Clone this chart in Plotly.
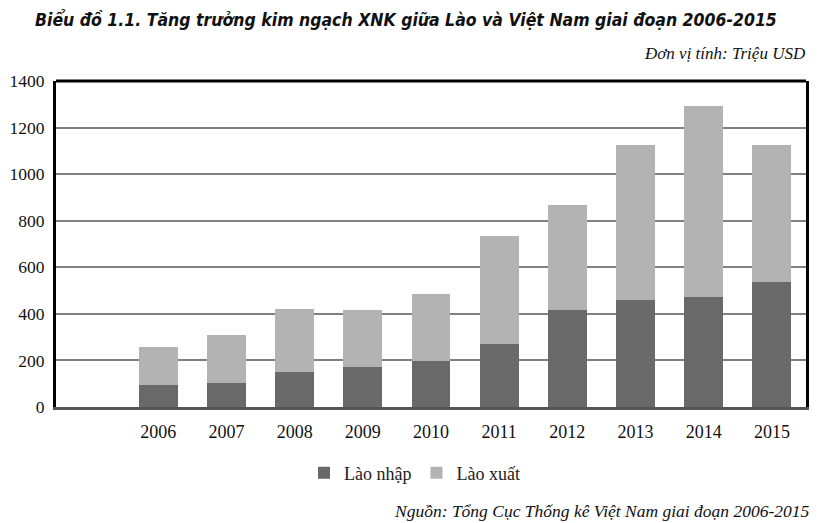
import plotly.graph_objects as go

years = [2006, 2007, 2008, 2009, 2010, 2011, 2012, 2013, 2014, 2015]
lao_nhap = [94, 104, 149, 171, 197, 272, 418, 458, 474, 536]
lao_xuat = [164, 207, 274, 244, 290, 461, 450, 666, 817, 588]
y_ticks = [0, 200, 400, 600, 800, 1000, 1200, 1400]

title = "Biểu đồ 1.1. Tăng trưởng kim ngạch XNK giữa Lào và Việt Nam giai đoạn 2006-2015"
unit = "Đơn vị tính: Triệu USD"
source = "Nguồn: Tổng Cục Thống kê Việt Nam giai đoạn 2006-2015"

fig = go.Figure()
fig.add_trace(go.Bar(x=years, y=lao_nhap, name="Lào nhập", marker_color="#696969",
                     marker_line_width=0, width=0.57))
fig.add_trace(go.Bar(x=years, y=lao_xuat, name="Lào xuất", marker_color="#b3b3b3",
                     marker_line_width=0, width=0.57))

serif = "Liberation Serif"
PW, PH = 750, 326  # plot area size in pixels
OFF = 8  # page body margin


def px_x(x):
    return (x - 56) / PW


def px_y(y):
    return (407 - y) / PH


fig.update_layout(
    width=827 - OFF, height=523 - OFF,
    barmode="stack",
    paper_bgcolor="white", plot_bgcolor="white",
    margin=dict(l=56 - OFF, r=21, t=81 - OFF, b=116, autoexpand=False),
    showlegend=True,
    legend=dict(orientation="h", x=px_x(304), xanchor="left",
                y=px_y(473), yanchor="middle",
                font=dict(family=serif, size=18, color="#222"),
                traceorder="normal"),
    xaxis=dict(range=[2004.5, 2015.5], tickmode="array", tickvals=years,
               ticktext=[str(y) for y in years],
               showgrid=False, zeroline=False,
               showline=True, linecolor="#555", linewidth=2.5,
               ticks="", ticklabelstandoff=7,
               tickfont=dict(family=serif, size=18, color="#111")),
    yaxis=dict(range=[0, 1400], tickmode="array", tickvals=y_ticks,
               showgrid=True, gridcolor="#808080", gridwidth=1.5,
               zeroline=False, showline=True, mirror=True,
               linecolor="black", linewidth=3,
               ticks="", ticklabelstandoff=5,
               tickfont=dict(family=serif, size=17.5, color="#111")),
    shapes=[dict(type="line", xref="paper", yref="paper", x0=0, x1=1, y0=1, y1=1,
                 line=dict(color="black", width=3))],
    annotations=[
        dict(text="<b><i>" + title + "</i></b>", x=px_x(33), y=px_y(20),
             xref="paper", yref="paper",
             showarrow=False, xanchor="left", yanchor="middle",
             font=dict(family="DejaVu Sans Condensed, DejaVu Sans", size=17.5, color="#111")),
        dict(text="<i>" + unit + "</i>", x=px_x(808), y=px_y(53),
             xref="paper", yref="paper",
             showarrow=False, xanchor="right", yanchor="middle",
             font=dict(family=serif, size=17, color="#111")),
        dict(text="<i>" + source + "</i>", x=px_x(812), y=px_y(511),
             xref="paper", yref="paper",
             showarrow=False, xanchor="right", yanchor="middle",
             font=dict(family=serif, size=17.5, color="#111")),
    ],
)

fig.write_html("out.html")
